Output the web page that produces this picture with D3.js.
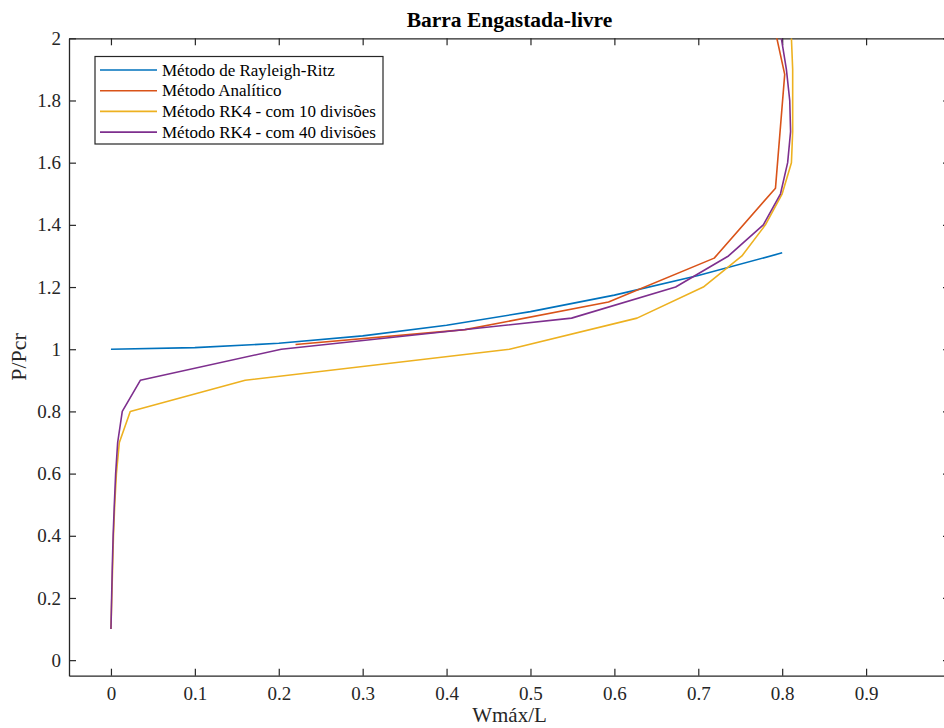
<!DOCTYPE html>
<html>
<head>
<meta charset="utf-8">
<script src="https://cdn.jsdelivr.net/npm/d3@7"></script>
<style>
  html, body { margin: 0; padding: 0; background: #fff; }
  svg { display: block; font-family: "Liberation Serif", "Times New Roman", serif; }
</style>
</head>
<body>
<svg id="chart" width="944" height="728"></svg>
<script>
// Deflection ratio Wmáx/L versus load ratio P/Pcr for a cantilever column
const rayleighRitzW = [0, 0.1, 0.2, 0.3, 0.4, 0.5, 0.6, 0.7, 0.8];
const rayleighRitzP = [1.0, 1.005, 1.019, 1.043, 1.077, 1.121, 1.174, 1.237, 1.31];

const analyticW = [0.22, 0.422, 0.593, 0.719, 0.792, 0.803, 0.75];
const analyticP = [1.015, 1.063, 1.152, 1.293, 1.518, 1.884, 2.541];

const rk10W = [0, 0.001, 0.002, 0.003, 0.0045, 0.0065, 0.01, 0.023, 0.16, 0.475, 0.627, 0.706, 0.752, 0.78, 0.80, 0.811, 0.8125, 0.8125, 0.8125, 0.811];
const rk10P = [0.1, 0.2, 0.3, 0.4, 0.5, 0.6, 0.7, 0.8, 0.9, 1.0, 1.1, 1.2, 1.3, 1.4, 1.5, 1.6, 1.7, 1.8, 1.9, 2.0];

const rk40W = [0, 0.0008, 0.0016, 0.0026, 0.004, 0.0056, 0.008, 0.0135, 0.035, 0.203, 0.549, 0.673, 0.736, 0.7775, 0.798, 0.8065, 0.810, 0.809, 0.805, 0.799];
const rk40P = [0.1, 0.2, 0.3, 0.4, 0.5, 0.6, 0.7, 0.8, 0.9, 1.0, 1.1, 1.2, 1.3, 1.4, 1.5, 1.6, 1.7, 1.8, 1.9, 2.0];

const seriesNames = [
  "Método de Rayleigh-Ritz",
  "Método Analítico",
  "Método RK4 - com 10 divisões",
  "Método RK4 - com 40 divisões"
];
const seriesColors = ["#0072BD", "#D95319", "#EDB120", "#7E2F8E"];

const xTicks = [0, 0.1, 0.2, 0.3, 0.4, 0.5, 0.6, 0.7, 0.8, 0.9];
const yTicks = [0, 0.2, 0.4, 0.6, 0.8, 1, 1.2, 1.4, 1.6, 1.8, 2];

const titleText = "Barra Engastada-livre";
const xLabel = "Wmáx/L";
const yLabel = "P/Pcr";

const series = [
  { w: rayleighRitzW, p: rayleighRitzP },
  { w: analyticW, p: analyticP },
  { w: rk10W, p: rk10P },
  { w: rk40W, p: rk40P }
].map((s, i) => ({
  name: seriesNames[i],
  color: seriesColors[i],
  points: s.w.map((w, j) => [w, s.p[j]])
}));

const svg = d3.select("#chart");
const plotLeft = 69, plotRight = 950, plotTop = 38.3, plotBottom = 675.7;
const axisColor = "#262626";

const x = d3.scaleLinear().domain([-0.05, 1.0]).range([plotLeft, plotRight]);
const y = d3.scaleLinear().domain([-0.05, 2.0]).range([plotBottom, plotTop]);

svg.append("defs").append("clipPath").attr("id", "plotClip")
  .append("rect").attr("x", plotLeft).attr("y", plotTop)
  .attr("width", plotRight - plotLeft).attr("height", plotBottom - plotTop);

const fmt = d => d3.format("")(d);

// bottom axis with ticks pointing inward
const xAxis = svg.append("g").attr("transform", `translate(0,${plotBottom})`)
  .call(d3.axisBottom(x).tickValues(xTicks).tickSizeInner(-7).tickSizeOuter(0).tickPadding(11).tickFormat(fmt));
// top axis, ticks only
const xAxisTop = svg.append("g").attr("transform", `translate(0,${plotTop})`)
  .call(d3.axisTop(x).tickValues(xTicks).tickSizeInner(-7).tickSizeOuter(0).tickFormat(""));
// left axis
const yAxis = svg.append("g").attr("transform", `translate(${plotLeft},0)`)
  .call(d3.axisLeft(y).tickValues(yTicks).tickSizeInner(-7).tickSizeOuter(0).tickPadding(8).tickFormat(fmt));
// right axis, ticks only
const yAxisRight = svg.append("g").attr("transform", `translate(${plotRight},0)`)
  .call(d3.axisRight(y).tickValues(yTicks).tickSizeInner(-7).tickSizeOuter(0).tickFormat(""));

[xAxis, xAxisTop, yAxis, yAxisRight].forEach(g => {
  g.select(".domain").attr("stroke", axisColor).attr("stroke-width", 1.3);
  g.selectAll(".tick line").attr("stroke", axisColor).attr("stroke-width", 1.2);
  g.selectAll(".tick text").attr("fill", axisColor)
    .style("font-family", "'Liberation Serif', 'Times New Roman', serif")
    .style("font-size", "19px");
});

// series lines
const line = d3.line().x(d => x(d[0])).y(d => y(d[1]));
const plot = svg.append("g").attr("clip-path", "url(#plotClip)");
plot.selectAll("path.series").data(series).join("path")
  .attr("class", "series")
  .attr("d", d => line(d.points))
  .attr("fill", "none")
  .attr("stroke", d => d.color)
  .attr("stroke-width", 1.6)
  .attr("stroke-linejoin", "round");

// title and axis labels
svg.append("text").attr("x", (plotLeft + plotRight) / 2).attr("y", 27)
  .attr("text-anchor", "middle").attr("font-weight", "bold")
  .attr("font-size", 21.5).attr("fill", "#000").text(titleText);

svg.append("text").attr("x", (plotLeft + plotRight) / 2).attr("y", 722)
  .attr("text-anchor", "middle").attr("font-size", 21).attr("fill", axisColor).text(xLabel);

svg.append("text").attr("transform", `translate(26,${(plotTop + plotBottom) / 2}) rotate(-90)`)
  .attr("text-anchor", "middle").attr("font-size", 22).attr("fill", axisColor).text(yLabel);

// legend
const lg = svg.append("g");
lg.append("rect").attr("x", 95).attr("y", 56.5).attr("width", 288).attr("height", 87.5)
  .attr("fill", "#fff").attr("stroke", axisColor).attr("stroke-width", 1.2);
const items = lg.selectAll("g.item").data(series).join("g")
  .attr("class", "item")
  .attr("transform", (d, i) => `translate(0,${70 + i * 20.7})`);
items.append("line").attr("x1", 100).attr("x2", 157).attr("y1", 0).attr("y2", 0)
  .attr("stroke", d => d.color).attr("stroke-width", 1.6);
items.append("text").attr("x", 162).attr("y", 5.5).attr("font-size", 17)
  .attr("fill", "#000").text(d => d.name);
</script>
</body>
</html>
